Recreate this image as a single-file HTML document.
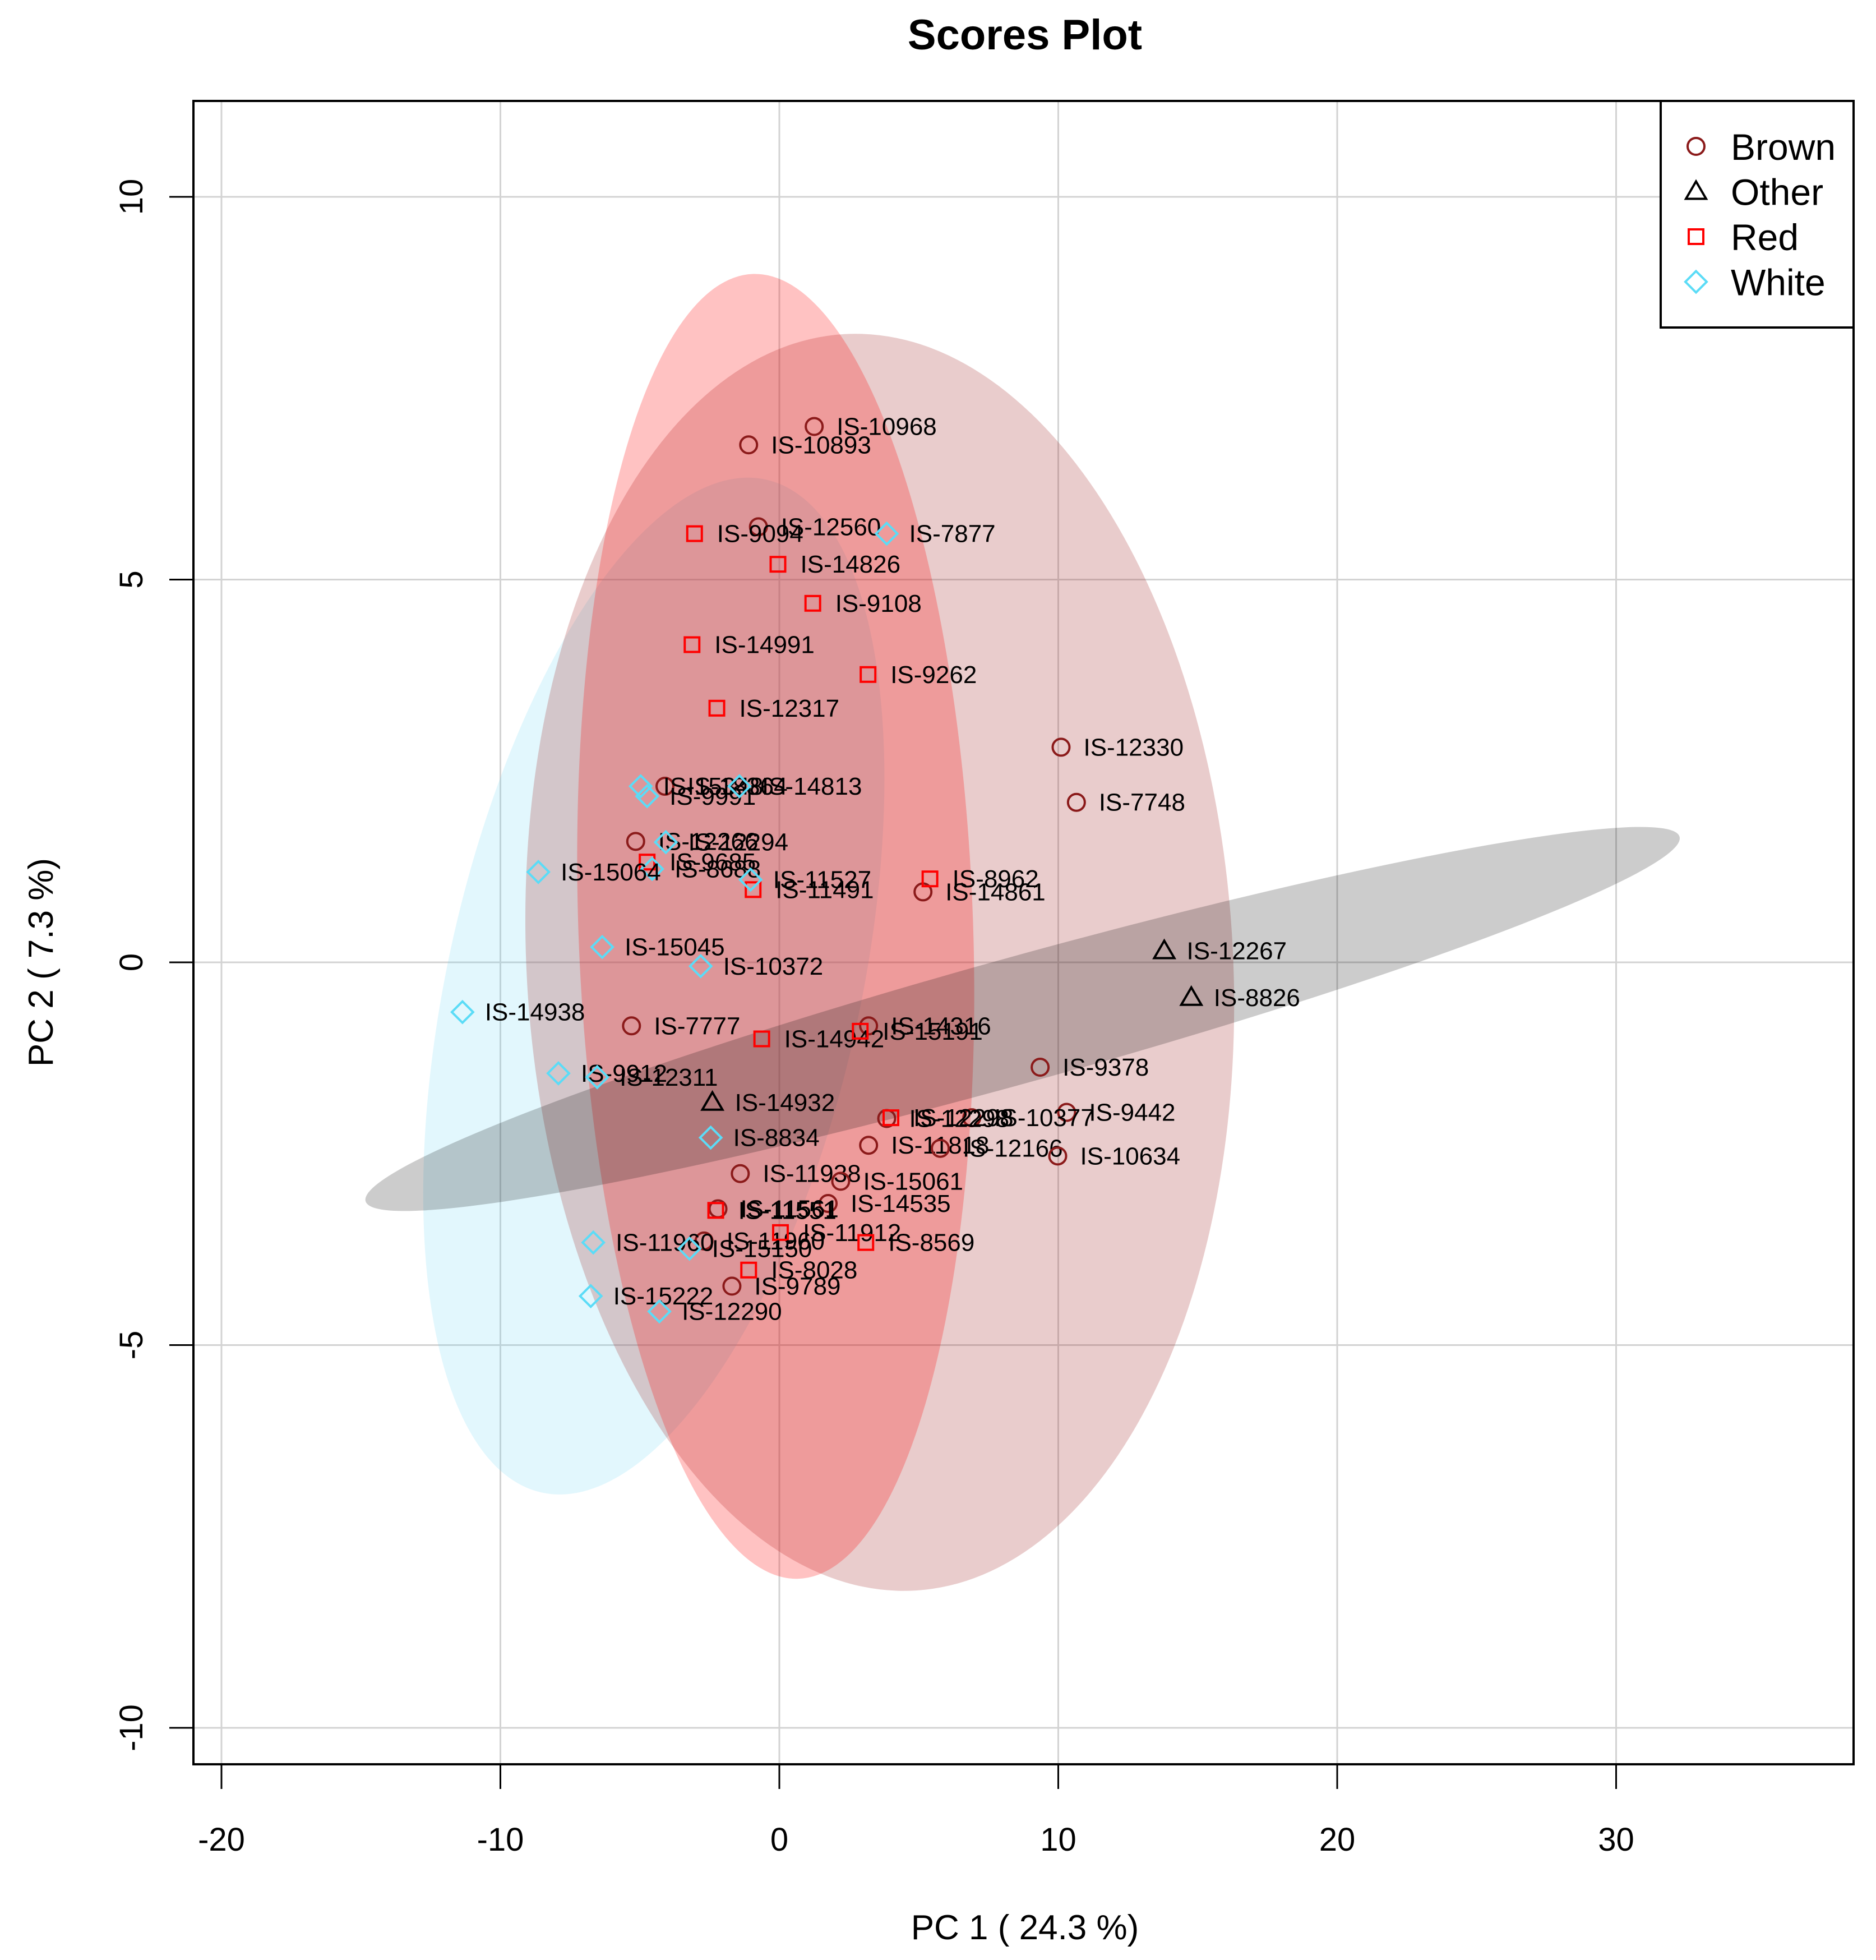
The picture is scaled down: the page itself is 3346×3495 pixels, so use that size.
<!DOCTYPE html>
<html><head><meta charset="utf-8"><style>
html,body{margin:0;padding:0;background:#fff;}
svg{display:block;font-family:"Liberation Sans",sans-serif;}
</style></head><body>
<svg id="chart" width="3346" height="3495" viewBox="0 0 3346 3495" xmlns="http://www.w3.org/2000/svg">
<text x="1828" y="88" font-size="76" font-weight="bold" text-anchor="middle">Scores Plot</text>
<g id="grid"></g>
<g id="ellipses"></g>
<g id="points"></g>
<rect x="345" y="180" width="2961" height="2966" fill="none" stroke="#000" stroke-width="4"/>
<g id="axes"></g>
<text x="1828" y="3458" font-size="62" text-anchor="middle">PC 1 ( 24.3 %)</text>
<text transform="translate(94,1716) rotate(-90)" font-size="62" text-anchor="middle">PC 2 ( 7.3 %)</text>
<g id="legend">
<rect x="2962" y="180" width="344" height="404" fill="#fff" stroke="#000" stroke-width="4"/>
</g>
</svg>
<script>
const xTicks=[-20,-10,0,10,20,30];
const yTicks=[-10,-5,0,5,10];
const groups=["Brown","Other","Red","White"];
const brownNames=["IS-10968","IS-10893","IS-12560","IS-12330","IS-7748","IS-18364","IS-12266","IS-14861","IS-7777","IS-14316","IS-9378","IS-9442","IS-10377","IS-12298b","IS-11818","IS-12166","IS-10634","IS-11938","IS-15061","IS-14535","IS-11561","IS-11960","IS-9789"];
const brownX=[1.25,-1.1,-0.75,10.1,10.65,-4.1,-5.15,5.15,-5.3,3.2,9.35,10.3,6.9,3.85,3.2,5.77,9.98,-1.4,2.2,1.75,-2.2,-2.7,-1.7];
const brownY=[7.0,6.76,5.69,2.81,2.09,2.3,1.58,0.92,-0.83,-0.83,-1.37,-1.96,-2.03,-2.04,-2.39,-2.43,-2.53,-2.76,-2.86,-3.15,-3.22,-3.64,-4.23];
const redNames=["IS-9094","IS-14826","IS-9108","IS-14991","IS-9262","IS-12317","IS-8962","IS-11491","IS-9685","IS-14942","IS-15191","IS-12298","IS-11551","IS-11912","IS-8569","IS-8028"];
const redX=[-3.04,-0.05,1.2,-3.13,3.18,-2.24,5.4,-0.94,-4.74,-0.63,2.9,4.0,-2.28,0.04,3.1,-1.1];
const redY=[5.6,5.2,4.69,4.15,3.76,3.32,1.09,0.95,1.31,-1.0,-0.9,-2.03,-3.24,-3.53,-3.66,-4.02];
const otherNames=["IS-12267","IS-8826","IS-14932"];
const otherX=[13.8,14.77,-2.4];
const otherY=[0.15,-0.46,-1.83];
const whiteNames=["IS-7877","IS-15348","IS-9991","IS-14813","IS-12294","IS-8688","IS-15064","IS-11527","IS-15045","IS-10372","IS-14938","IS-9912","IS-12311","IS-8834","IS-11960","IS-15150","IS-15222","IS-12290"];
const whiteX=[3.85,-4.97,-4.74,-1.43,-4.07,-4.56,-8.64,-1.03,-6.35,-2.82,-11.36,-7.92,-6.53,-2.46,-6.67,-3.22,-6.76,-4.3];
const whiteY=[5.6,2.3,2.17,2.3,1.57,1.22,1.18,1.08,0.2,-0.05,-0.65,-1.45,-1.5,-2.29,-3.66,-3.74,-4.36,-4.56];
// ellipse centres (data units)
const ellCX=[3.6,-0.13,-4.5,8.72];
const ellCY=[0.0,0.47,-0.31,-0.74];

const NS="http://www.w3.org/2000/svg";
const X=v=>1390+49.75*v, Y=v=>1716-136.5*v;
function mk(tag,attrs,parent){const e=document.createElementNS(NS,tag);for(const k in attrs)e.setAttribute(k,attrs[k]);parent.appendChild(e);return e;}
const grid=document.getElementById('grid'),axes=document.getElementById('axes');
xTicks.forEach(t=>{
 const l=mk('line',{x1:X(t),x2:X(t),y1:180,y2:3146,stroke:'#d3d3d3','stroke-width':3},grid);
 
 
 const tk=mk('line',{x1:X(t),x2:X(t),y1:3146,y2:3190,stroke:'#000','stroke-width':3},axes);
 
 
 const tx=mk('text',{x:X(t),y:3300,'font-size':58,'text-anchor':'middle'},axes);
 tx.textContent=t;
 
 
});
yTicks.forEach(t=>{
 const l=mk('line',{x1:345,x2:3306,y1:Y(t),y2:Y(t),stroke:'#d3d3d3','stroke-width':3},grid);
 
 
 const tk=mk('line',{x1:302,x2:345,y1:Y(t),y2:Y(t),stroke:'#000','stroke-width':3},axes);
 
 
 const tx=mk('text',{transform:`translate(254,${Y(t)}) rotate(-90)`,'font-size':58,'text-anchor':'middle'},axes);
 tx.textContent=t;
 
 
});
const ell=document.getElementById('ellipses');
const ellStyle=[['rgba(165,42,42,0.24)',630,1122,-3.2],['rgba(255,0,0,0.24)',352,1164,-2],['rgba(110,215,245,0.2)',368,925,12.5],['rgba(0,0,0,0.2)',1216,112,-15.5]];
[2,0,1,3].forEach(i=>{
 const s=ellStyle[i],cx=X(ellCX[i]),cy=Y(ellCY[i]);
 const e=mk('ellipse',{cx:cx,cy:cy,rx:s[1],ry:s[2],fill:s[0],transform:`rotate(${s[3]} ${cx} ${cy})`},ell);
 
 
});
const pts=document.getElementById('points');
function marker(kind,cx,cy,parent){
 let e;
 if(kind==='Brown') e=mk('circle',{cx:cx,cy:cy,r:15,fill:'none',stroke:'#8b1a1a','stroke-width':4},parent);
 else if(kind==='Red') e=mk('rect',{x:cx-13,y:cy-13,width:26,height:26,fill:'none',stroke:'#ff0000','stroke-width':4},parent);
 else if(kind==='White') e=mk('polygon',{points:`${cx},${cy-19} ${cx+19},${cy} ${cx},${cy+19} ${cx-19},${cy}`,fill:'none',stroke:'#5bdcf7','stroke-width':4},parent);
 else e=mk('polygon',{points:`${cx},${cy-18} ${cx+18},${cy+13} ${cx-18},${cy+13}`,fill:'none',stroke:'#000','stroke-width':4},parent);
 return e;
}
function series(kind,names,xs,ys){
 xs.forEach((v,i)=>{
  const cx=X(v),cy=Y(ys[i]);
  const m=marker(kind,cx,cy,pts);
  
  
  const t=mk('text',{x:cx+40,y:cy+15,'font-size':44,fill:'#000'},pts);
  t.textContent=names[i].replace(/b$/,'');
  
  
 });
}
series('Brown',brownNames,brownX,brownY);
series('Red',redNames,redX,redY);
series('Other',otherNames,otherX,otherY);
series('White',whiteNames,whiteX,whiteY);
const lg=document.getElementById('legend');
groups.forEach((g,i)=>{
 const y=261+80.5*i;
 const m=marker(g,3025,y,lg);
 
 
 const t=mk('text',{x:3087,y:y+24,'font-size':66},lg);
 t.textContent=g;
 
 
});
</script>
</body></html>
